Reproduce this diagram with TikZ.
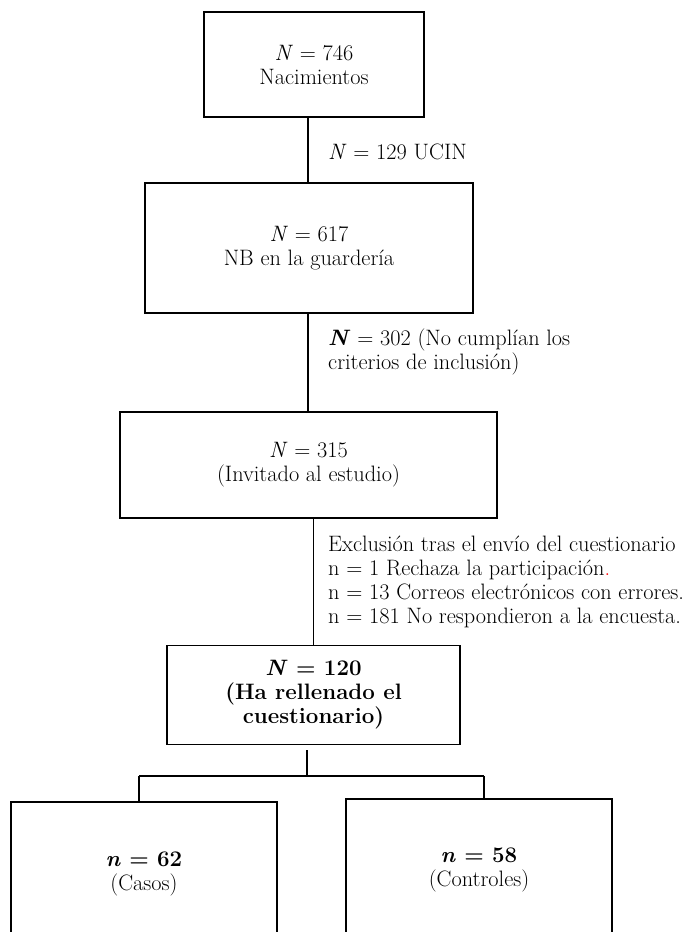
\documentclass[tikz,border=0pt]{standalone}
\usepackage{amsmath}
\usepackage{amssymb}
\usepackage{tikz}

\newcommand{\chartfont}{\fontsize{22.3}{24}\selectfont}
\newcommand{\vN}{\textit{N}}
\newcommand{\vn}{\textit{n}}

\begin{document}
\begin{tikzpicture}[x=1pt, y=-1pt,
    box/.style={draw, line width=1.8pt, align=center, inner sep=0pt, font=\chartfont},
    link/.style={line width=1.1pt},
    note/.style={anchor=west, align=left, inner sep=0pt, font=\chartfont}]
                % Page frame
                \useasboundingbox (0,0) rectangle (691,932);

                % Births
                \node[box, minimum width=220pt, minimum height=105pt] (births) at (314,64.5) {\vN{} = 746\\Nacimientos};

                % Nursery
                \node[box, minimum width=328pt, minimum height=130pt] (nursery) at (309,248) {\vN{} = 617\\NB en la guardería};

                % Invited to the study
                \node[box, minimum width=377pt, minimum height=106pt] (invited) at (308.5,465) {\vN{} = 315\\(Invitado al estudio)};

                % Answered the questionnaire
                \node[box, minimum width=293pt, minimum height=99pt, font=\chartfont\bfseries] (answered) at (313.5,695) {\vN{} = 120\\(Ha rellenado el\\cuestionario)};

                % Cases and controls
                \node[box, minimum width=266pt, minimum height=144pt] (cases) at (144,874) {\textbf{\vn{} = 62}\\(Casos)};
                \node[box, minimum width=266pt, minimum height=142pt] (controls) at (479,870) {\textbf{\vn{} = 58}\\(Controles)};

                % Exclusion notes
                \node[note] (ucin) at (328,152) {\vN{} = 129 UCIN};
                \node[note] (unmet) at (328,351.5) {\textbf{\vN} = 302 (No cumplían los\\criterios de inclusión)};
                \node[note] (excluded) at (328,582) {Exclusión tras el envío del cuestionario\\n = 1 Rechaza la participación{\color{red}.}\\n = 13 Correos electrónicos con errores.\\n = 181 No respondieron a la encuesta.};

                % Main line
                \coordinate (spine) at (308,0);
                \draw[link] (births.south -| spine) -- (nursery.north -| spine);
                \draw[link] (nursery.south -| spine) -- (invited.north -| spine);
                \draw[link] (answered.north |- invited.south) -- (answered.north);

                % Split into the two groups
                \coordinate (split) at (307,776);
                \coordinate (leftdrop) at (139,776);
                \coordinate (rightdrop) at (484,776);
                \draw[link] ([yshift=-5pt]answered.south -| split) -- (split);
                \draw[link] (leftdrop) -- (rightdrop);
                \draw[link] (leftdrop) -- (cases.north -| leftdrop);
                \draw[link] (rightdrop) -- (controls.north -| rightdrop);
            \end{tikzpicture}
\end{document}
